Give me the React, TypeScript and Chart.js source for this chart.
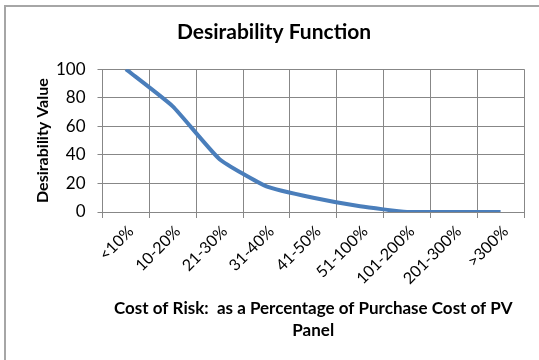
import React, { useEffect, useRef } from "react";
import { Chart, registerables } from "chart.js";

Chart.register(...registerables);

const categories = ["<10%", "10-20%", "21-30%", "31-40%", "41-50%", "51-100%", "101-200%", "201-300%", ">300%"];
const desirability = [100, 74, 37, 18, 10, 4, 0, 0, 0];
const yTicks = [0, 20, 40, 60, 80, 100];
const chartTitle = "Desirability Function";
const yTitle = "Desirability Value";
const xTitle = ["Cost of Risk:  as a Percentage of Purchase Cost of PV", "Panel"];

const FONT = "Lato, 'Open Sans', sans-serif";

const borderPlugin = {
  id: "outerBorder",
  beforeDraw(chart: any) {
    const ctx = chart.ctx;
    ctx.save();
    ctx.fillStyle = "#ffffff";
    ctx.fillRect(0, 0, chart.width, chart.height);
    ctx.strokeStyle = "#A6A6A6";
    ctx.lineWidth = 2;
    ctx.strokeRect(5, 6, chart.width + 20, chart.height + 20);
    ctx.restore();
  },
};

export default function App() {
  const ref = useRef<HTMLCanvasElement | null>(null);

  useEffect(() => {
    document.body.style.margin = "0";
    const canvas = ref.current;
    if (!canvas) return;
    const chart = new Chart(canvas, {
      type: "line",
      data: {
        labels: categories,
        datasets: [
          {
            data: desirability,
            borderColor: "#4A7EBB",
            backgroundColor: "#4A7EBB",
            borderWidth: 4,
            pointRadius: 0,
            tension: 0.15,
            fill: false,
          },
        ],
      },
      plugins: [borderPlugin],
      options: {
        animation: false,
        responsive: false,
        maintainAspectRatio: false,
        layout: { padding: { left: 24, right: 15, top: 0, bottom: 0 } },
        plugins: {
          legend: { display: false },
          tooltip: { enabled: false },
          title: {
            display: true,
            text: chartTitle,
            color: "#000",
            font: { family: FONT, size: 21, weight: "bold" },
            padding: { top: 20, bottom: 24 },
          },
        },
        scales: {
          x: {
            type: "category",
            offset: true,
            grid: { offset: true, color: "#878787", lineWidth: 1, tickLength: 6, drawTicks: true },
            border: { color: "#878787", width: 1 },
            ticks: {
              color: "#000",
              font: { family: FONT, size: 16 },
              minRotation: 45,
              maxRotation: 45,
              autoSkip: false,
              padding: 4,
              labelOffset: 5,
            },
            title: {
              display: true,
              text: xTitle,
              color: "#000",
              font: { family: FONT, size: 17, weight: "bold", lineHeight: 1.3 },
              padding: { top: 0, bottom: 18 },
            },
            afterFit(scale: any) {
              scale.height = 148;
            },
          },
          y: {
            min: 0,
            max: 100,
            afterBuildTicks(scale: any) {
              scale.ticks = yTicks.map((v) => ({ value: v }));
            },
            grid: { color: "#878787", lineWidth: 1, tickLength: 5 },
            border: { color: "#878787", width: 1 },
            ticks: {
              color: "#000",
              font: { family: FONT, size: 17 },
              padding: 12,
            },
            title: {
              display: true,
              text: yTitle,
              color: "#000",
              font: { family: FONT, size: 16, weight: "bold" },
              padding: { top: 9, bottom: 0 },
            },
            afterFit(scale: any) {
              scale.width = 78.5;
            },
          },
        },
      },
    });
    return () => chart.destroy();
  }, []);

  return (
    <div style={{ width: 539, height: 360 }}>
      <canvas ref={ref} width={539} height={360} style={{ display: "block" }} />
    </div>
  );
}
